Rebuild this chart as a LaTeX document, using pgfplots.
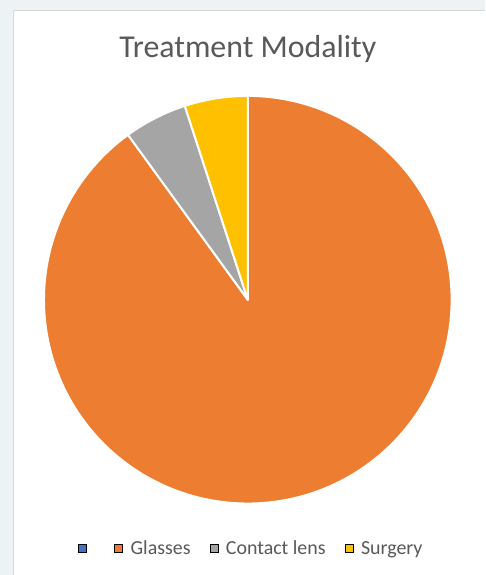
\documentclass[border=0pt]{standalone}
\usepackage{pgfplots}
\pgfplotsset{compat=1.18}
\usepackage{fontspec}
\setmainfont{Carlito}
\definecolor{cBlue}{HTML}{4472C4}
\definecolor{cOrange}{HTML}{ED7D31}
\definecolor{cGray}{HTML}{A5A5A5}
\definecolor{cYellow}{HTML}{FFC000}
\definecolor{cText}{HTML}{595959}
\definecolor{cBg}{HTML}{EDF2F5}
\definecolor{cBorder}{HTML}{D9D9D9}
% data (percent)
\def\vBlank{0}
\def\vGlasses{90}
\def\vContact{5}
\def\vSurgery{5}
\begin{document}
\begin{tikzpicture}
\pgfmathsetmacro{\aA}{90-3.6*\vBlank}
\pgfmathsetmacro{\aB}{\aA-3.6*\vGlasses}
\pgfmathsetmacro{\aC}{\aB-3.6*\vContact}
\pgfmathsetmacro{\aD}{\aC-3.6*\vSurgery}
\begin{axis}[
  x=1bp, y=1bp, scale only axis,
  xmin=0, xmax=485, ymin=0, ymax=575,
  hide axis, clip=false,
  legend columns=-1,
  legend image code/.code={\fill[#1] (0bp,-4bp) rectangle (8bp,4bp);},
  legend style={at={(axis cs:78,26)}, anchor=west, draw=none, fill=none,
    inner sep=0pt, outer sep=0pt,
    font=\fontsize{20}{22}\selectfont, text=cText,
    nodes={inner sep=0pt},
    /tikz/every odd column/.append style={column sep=8bp},
    /tikz/every even column/.append style={column sep=19bp}},
]
% background and chart area
\fill[cBg] (axis cs:0,0) rectangle (axis cs:485,575);
\fill[white] (axis cs:14,0) rectangle (axis cs:485,564);
\draw[cBorder, line width=1bp] (axis cs:14,0) -- (axis cs:14,564) -- (axis cs:485,564);
\node[text=cText, font=\fontsize{32}{35}\selectfont] at (axis cs:248,526) {Treatment Modality};
% legend entries
\addlegendimage{fill=cBlue}\addlegendentry{}
\addlegendimage{fill=cOrange}\addlegendentry{Glasses}
\addlegendimage{fill=cGray}\addlegendentry{Contact lens}
\addlegendimage{fill=cYellow}\addlegendentry{Surgery}
% slices
\addplot[forget plot, fill=cOrange, draw=white, line width=2bp, line join=round,
  domain=\aA:\aB, samples=200, variable=\t]
  ({248+204*cos(t)},{275+204*sin(t)}) -- (axis cs:248,275) -- cycle;
\addplot[forget plot, fill=cGray, draw=white, line width=2bp, line join=round,
  domain=\aB:\aC, samples=30, variable=\t]
  ({248+204*cos(t)},{275+204*sin(t)}) -- (axis cs:248,275) -- cycle;
\addplot[forget plot, fill=cYellow, draw=white, line width=2bp, line join=round,
  domain=\aC:\aD, samples=30, variable=\t]
  ({248+204*cos(t)},{275+204*sin(t)}) -- (axis cs:248,275) -- cycle;
\end{axis}
\end{tikzpicture}
\end{document}
